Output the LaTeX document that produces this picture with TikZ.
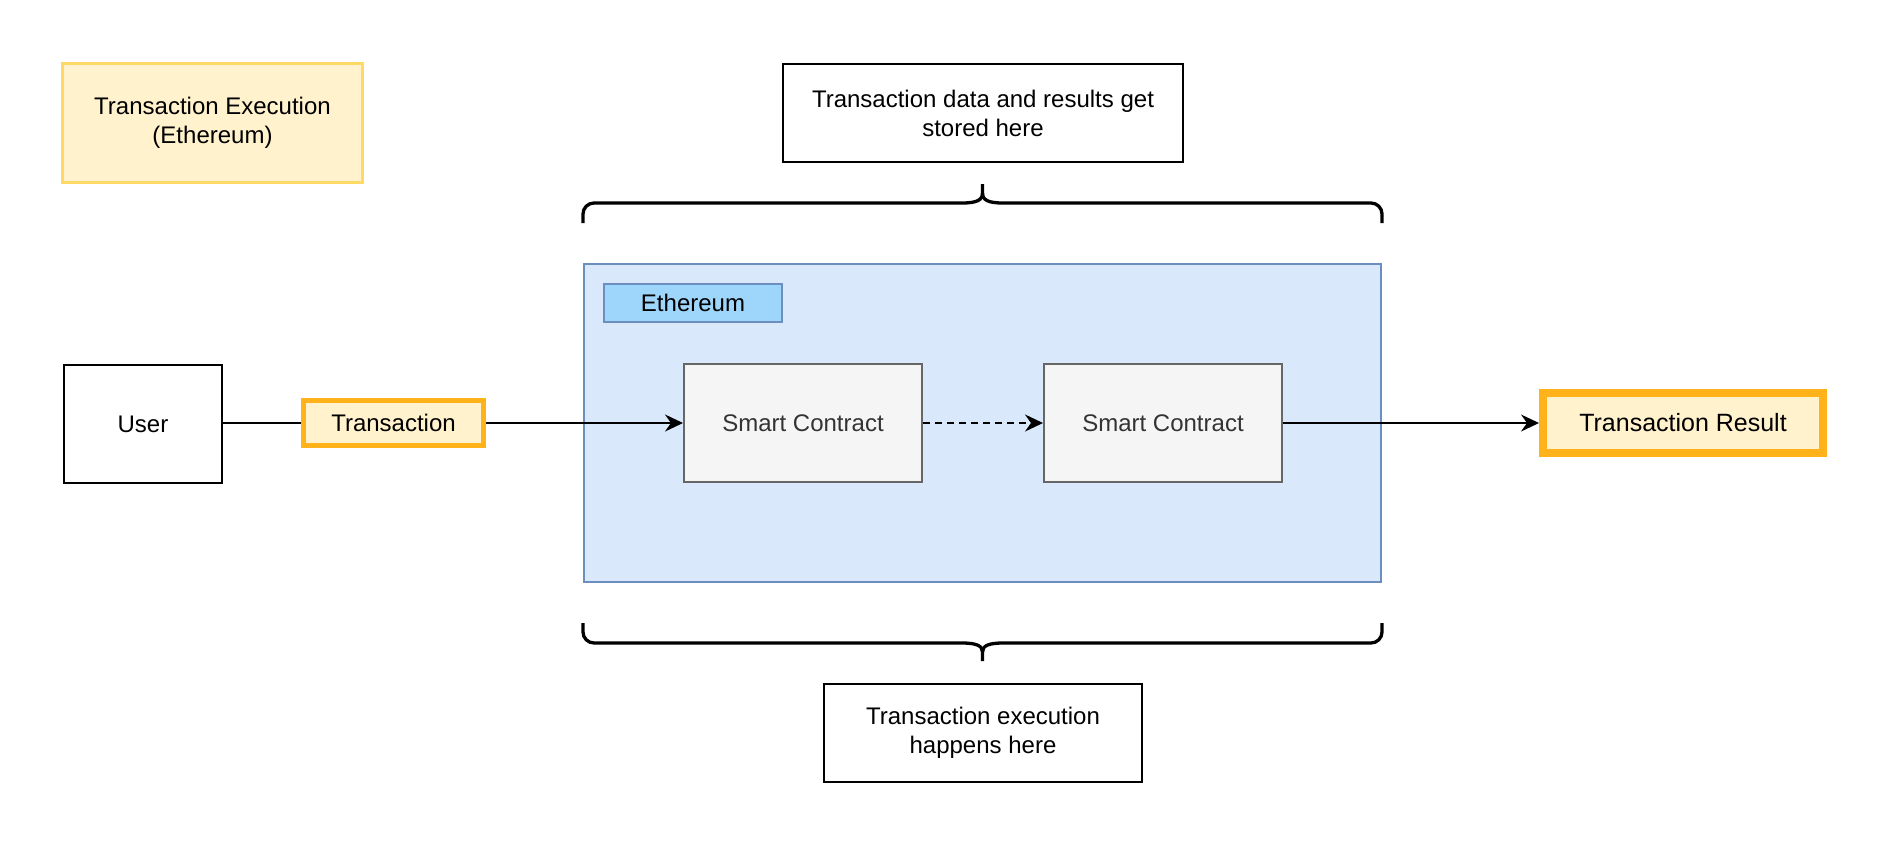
\documentclass[tikz,border=0pt]{standalone}
\usepackage{fontspec}
\setmainfont{Liberation Sans}
\usetikzlibrary{arrows.meta}
\definecolor{yfill}{HTML}{FFF2CC}
\definecolor{ystroke}{HTML}{FFD966}
\definecolor{ostroke}{RGB}{255,178,26}
\definecolor{bfill}{HTML}{DAE8FC}
\definecolor{bstroke}{HTML}{6C8EBF}
\definecolor{lblue}{RGB}{158,213,250}
\definecolor{gfill}{HTML}{F5F5F5}
\definecolor{gstroke}{HTML}{666666}
\definecolor{gtext}{HTML}{333333}
\tikzset{
  txt/.style={font=\fontsize{24}{29}\selectfont, align=center, inner sep=0pt},
  plainbox/.style={txt, draw=black, line width=1.6pt, fill=white},
  notebox/.style={txt, draw=ystroke, fill=yfill, line width=3.3pt},
  orangebox/.style={txt, draw=ostroke, fill=yfill},
  container/.style={draw=bstroke, fill=bfill, line width=1.6pt, inner sep=0pt},
  labelbox/.style={txt, draw=bstroke, fill=lblue, line width=1.6pt},
  scbox/.style={txt, draw=gstroke, fill=gfill, text=gtext, line width=1.6pt},
  conn/.style={line width=1.6pt, draw=black},
  arr/.style={conn, -{Stealth[length=18pt,width=17pt,inset=6pt]}},
  bracebrace/.style={line width=3.3pt, draw=black, line join=round},
}
\begin{document}
\begin{tikzpicture}[x=1pt,y=-1pt]
\useasboundingbox (0,0) rectangle (1886,844);

% title note
\node[notebox, minimum width=299.7pt, minimum height=118.7pt] (title) at (212.5,123) {Transaction Execution\\(Ethereum)};

% top description
\node[plainbox, minimum width=400pt, minimum height=98.4pt] (stored) at (983,113) {Transaction data and results get\\stored here};

% container
\node[container, minimum width=797.4pt, minimum height=318.4pt] (eth) at (982.5,423) {};
\node[labelbox, minimum width=178.4pt, minimum height=38.4pt] (ethlabel) at (693,303) {Ethereum};

% smart contracts
\node[scbox, minimum width=238.4pt, minimum height=118.4pt] (sc1) at (803,423) {Smart Contract};
\node[scbox, minimum width=238.4pt, minimum height=118.4pt] (sc2) at (1163,423) {Smart Contract};

% user and transaction
\node[plainbox, minimum width=158.4pt, minimum height=118.4pt] (user) at (143,424) {User};
\node[orangebox, line width=5pt, minimum width=180pt, minimum height=45pt] (tx) at (393.5,423) {Transaction};
\node[orangebox, line width=7.7pt, minimum width=280.3pt, minimum height=60.3pt, font=\fontsize{25}{30}\selectfont] (result) at (1683,423) {Transaction Result};

% bottom description
\node[plainbox, minimum width=318.4pt, minimum height=98.4pt] (exec) at (983,733) {Transaction execution\\happens here};

% connectors
\draw[conn] (user.east |- tx.west) -- (tx.west);
\draw[arr] (tx.east) -- (sc1.west);
\draw[arr, dash pattern=on 7pt off 5pt] (sc1.east) -- (sc2.west);
\draw[arr] (sc2.east) -- (result.west);

% top brace
\draw[bracebrace] (583,223) [rounded corners=11pt] -- (583,203) [sharp corners] -- (962,203)
  .. controls (977,203) and (982.5,200) .. (982.5,193) -- (982.5,184);
\draw[bracebrace] (1382,223) [rounded corners=11pt] -- (1382,203) [sharp corners] -- (1003,203)
  .. controls (988,203) and (982.5,200) .. (982.5,193);

% bottom brace
\draw[bracebrace] (583,623) [rounded corners=11pt] -- (583,643) [sharp corners] -- (962,643)
  .. controls (977,643) and (982.5,646) .. (982.5,652) -- (982.5,661);
\draw[bracebrace] (1382,623) [rounded corners=11pt] -- (1382,643) [sharp corners] -- (1003,643)
  .. controls (988,643) and (982.5,646) .. (982.5,652);
\end{tikzpicture}
\end{document}
